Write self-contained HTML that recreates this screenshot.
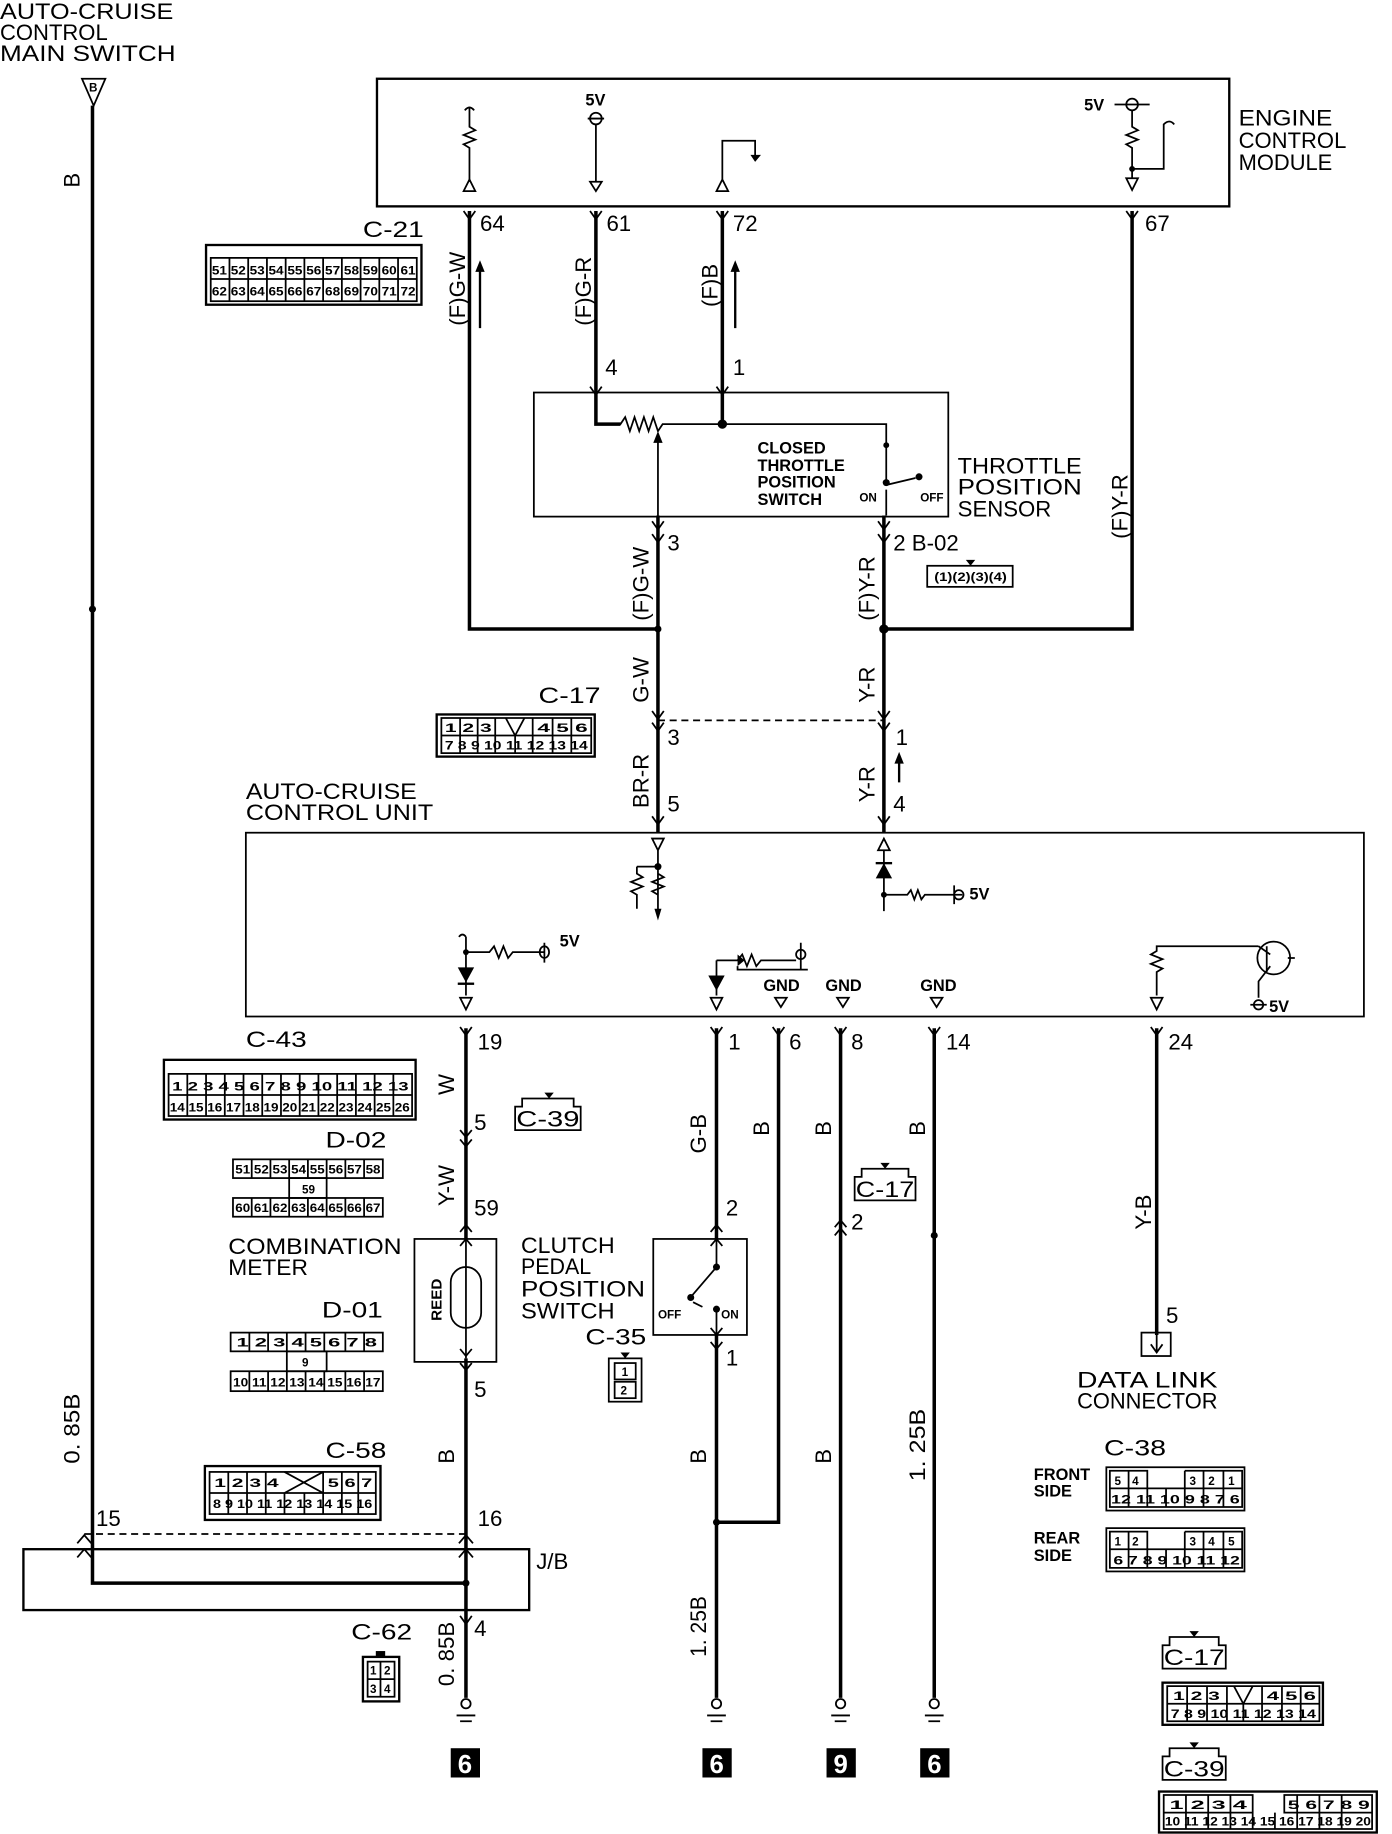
<!DOCTYPE html>
<html><head><meta charset="utf-8"><style>
html,body{margin:0;padding:0;background:#fff;}
svg{display:block}
text{font-family:"Liberation Sans",sans-serif;fill:#000}
.t{font-size:19px}
.s{font-size:14px;font-weight:bold}
.n{font-size:10px;font-weight:bold}
.w{stroke:#000;stroke-width:3;fill:none}
.l{stroke:#000;stroke-width:1.5;fill:none}
.b{stroke:#000;stroke-width:2;fill:none}
</style></head><body>
<svg width="1392" height="1834" viewBox="0 0 1189 1566" xmlns="http://www.w3.org/2000/svg">
<rect width="1189" height="1566" fill="#fff"/>
<text class="t" x="0" y="16" textLength="148" lengthAdjust="spacingAndGlyphs">AUTO-CRUISE</text>
<text class="t" x="0" y="34" textLength="92" lengthAdjust="spacingAndGlyphs">CONTROL</text>
<text class="t" x="0" y="52" textLength="150" lengthAdjust="spacingAndGlyphs">MAIN SWITCH</text>
<path class="l" d="M70 67 L90 67 L80 90 Z"/><text class="n" x="76" y="78">B</text>
<path class="w" d="M79 90 V1352 H398"/>
<circle cx="79" cy="520" r="3"/>
<text class="t" transform="translate(68,160) rotate(-90)">B</text>
<text class="t" transform="translate(68,1250) rotate(-90)" textLength="60" lengthAdjust="spacingAndGlyphs">0. 85B</text>
<rect class="b" x="20" y="1323" width="432" height="52"/>
<path class="l" d="M72 1310 H398" stroke-dasharray="6,4"/>
<text class="t" x="82" y="1303">15</text><text class="t" x="408" y="1303">16</text>
<text class="t" x="458" y="1340">J/B</text>
<path class="l" d="M66 1318 L72 1311 L78 1318 M66 1330 L72 1323 L78 1330 M392 1318 L398 1311 L404 1318 M392 1330 L398 1323 L404 1330"/>
<circle cx="398" cy="1352" r="3"/>
<rect class="b" x="322" y="67" width="728" height="109"/>
<text class="t" x="1058" y="107" textLength="80" lengthAdjust="spacingAndGlyphs">ENGINE</text>
<text class="t" x="1058" y="126" textLength="92" lengthAdjust="spacingAndGlyphs">CONTROL</text>
<text class="t" x="1058" y="145" textLength="80" lengthAdjust="spacingAndGlyphs">MODULE</text>
<path class="l" d="M397 94 Q401 89 405 94 M401 92 V108 l5 3 l-10 4 l10 4 l-10 4 l5 3 V155"/><path class="l" d="M396 163 L401 153 L406 163 Z"/>
<text class="s" x="500" y="90">5V</text><circle class="l" cx="509" cy="101" r="5"/><path class="l" d="M502 101 H516 M509 106 V155 M504 155 L509 163 L514 155 Z"/>
<path class="l" d="M612 163 L617 153 L622 163 Z M617 153 V120 H645 V133"/><path d="M641 132 H650 L645 138 Z"/>
<text class="s" x="926" y="94">5V</text><circle class="l" cx="967" cy="89" r="5"/><path class="l" d="M952 89 H982 M967 94 V108 l5 3 l-10 4 l10 4 l-10 4 l5 3 V152 M967 144 H994 V106 Q999 101 1003 106"/><circle cx="967" cy="144" r="2.5"/><path class="l" d="M962 152 L967 162 L972 152 Z"/>
<g class="l"><path d="M396 180 L401 187 L406 180 M504 180 L509 187 L514 180 M612 180 L617 187 L622 180 M962 180 L967 187 L972 180"/></g>
<text class="t" x="410" y="197">64</text><text class="t" x="518" y="197">61</text><text class="t" x="626" y="197">72</text><text class="t" x="978" y="197">67</text>
<path class="w" d="M401 180 V537 H562"/>
<path class="w" d="M509 180 V362 H530"/>
<path class="w" d="M617 180 V362"/>
<path class="w" d="M967 180 V537 H755"/>
<text class="t" transform="translate(397,278) rotate(-90)">(F)G-W</text>
<text class="t" transform="translate(505,278) rotate(-90)">(F)G-R</text>
<text class="t" transform="translate(613,262) rotate(-90)">(F)B</text>
<text class="t" transform="translate(963,460) rotate(-90)">(F)Y-R</text>
<path class="b" d="M410 280 V225 M628 280 V225 M768 668 V645"/><path d="M406 232 L410 222 L414 232 Z M624 232 L628 222 L632 232 Z M764 652 L768 642 L772 652 Z"/>
<text class="t" x="310" y="202" textLength="52" lengthAdjust="spacingAndGlyphs">C-21</text>
<rect x="176" y="209" width="184" height="51" class="b"/>
<rect x="180" y="220" width="176" height="37" class="l"/>
<path class="l" d="M196 220V257M212 220V257M228 220V257M244 220V257M260 220V257M276 220V257M292 220V257M308 220V257M324 220V257M340 220V257M180 238H356"/>
<text class="n" x="181" y="234" textLength="174" lengthAdjust="spacingAndGlyphs">51 52 53 54 55 56 57 58 59 60 61</text>
<text class="n" x="181" y="252" textLength="174" lengthAdjust="spacingAndGlyphs">62 63 64 65 66 67 68 69 70 71 72</text>
<rect class="l" x="456" y="335" width="354" height="106"/>
<text class="t" x="517" y="320">4</text><text class="t" x="626" y="320">1</text>
<path class="l" d="M504 330 L509 337 L514 330 M612 330 L617 337 L622 330"/>
<path class="l" d="M509 337 V362 H530 l4 -6 l4 12 l4 -12 l4 12 l4 -12 l4 12 l4 -12 l4 12 l4 -6 H617 H757 V410 M757 418 V440 M562 370 V440 M757 414 L782 408"/>
<path d="M558 378 L562 368 L566 378 Z"/><circle cx="617" cy="362" r="4"/><circle cx="757" cy="380" r="2.5"/><circle cx="757" cy="412" r="3"/><circle cx="785" cy="407" r="3"/>
<text class="s" x="647" y="387">CLOSED</text><text class="s" x="647" y="402">THROTTLE</text><text class="s" x="647" y="416">POSITION</text><text class="s" x="647" y="431">SWITCH</text>
<text class="n" x="734" y="428">ON</text><text class="n" x="786" y="428">OFF</text>
<text class="t" x="818" y="404" textLength="106" lengthAdjust="spacingAndGlyphs">THROTTLE</text>
<text class="t" x="818" y="422" textLength="106" lengthAdjust="spacingAndGlyphs">POSITION</text>
<text class="t" x="818" y="441" textLength="80" lengthAdjust="spacingAndGlyphs">SENSOR</text>
<path class="l" d="M557 445 L562 452 L567 445 M750 445 L755 452 L760 445 M557 456 L562 463 L567 456 M750 456 L755 463 L760 456"/>
<text class="t" x="570" y="470">3</text><text class="t" x="763" y="470">2 B-02</text>
<rect class="l" x="792" y="483" width="73" height="18"/><path d="M825 478 H833 L829 483 Z"/>
<text class="n" x="798" y="496" textLength="62" lengthAdjust="spacingAndGlyphs">(1)(2)(3)(4)</text>
<path class="w" d="M562 440 V711 M755 440 V711"/><circle cx="562" cy="537" r="3"/><circle cx="755" cy="537" r="4"/>
<text class="t" transform="translate(554,530) rotate(-90)">(F)G-W</text>
<text class="t" transform="translate(747,530) rotate(-90)">(F)Y-R</text>
<text class="t" transform="translate(554,600) rotate(-90)">G-W</text>
<text class="t" transform="translate(747,600) rotate(-90)">Y-R</text>
<path class="l" d="M557 607 L562 614 L567 607 M750 607 L755 614 L760 607 M557 617 L562 624 L567 617 M750 617 L755 624 L760 617"/>
<path class="l" d="M562 615 H755" stroke-dasharray="6,4"/>
<text class="t" x="570" y="636">3</text><text class="t" x="765" y="636">1</text>
<text class="t" transform="translate(554,690) rotate(-90)">BR-R</text>
<text class="t" transform="translate(747,685) rotate(-90)">Y-R</text>
<text class="t" x="570" y="693">5</text><text class="t" x="763" y="693">4</text>
<path class="l" d="M557 697 L562 704 L567 697 M750 697 L755 704 L760 697"/>
<text class="t" x="460" y="600" textLength="53" lengthAdjust="spacingAndGlyphs">C-17</text>
<rect class="b" x="373" y="610" width="135" height="36"/>
<path class="l" d="M377 613 H505 V643 H377 Z M377 628 H505 M393 613V643M408 613V643M423 613V643M440 628V643M455 613V643M472 613V643M488 613V643"/>
<path class="l" d="M432 613 L440 628 L448 613"/>
<text class="n" x="380" y="625" textLength="40" lengthAdjust="spacingAndGlyphs">1  2  3</text><text class="n" x="459" y="625" textLength="43" lengthAdjust="spacingAndGlyphs">4  5  6</text>
<text class="n" x="380" y="640" textLength="122" lengthAdjust="spacingAndGlyphs">7 8 9 10 11 12 13 14</text>
<text class="t" x="210" y="682" textLength="146" lengthAdjust="spacingAndGlyphs">AUTO-CRUISE</text>
<text class="t" x="210" y="700" textLength="160" lengthAdjust="spacingAndGlyphs">CONTROL UNIT</text>
<rect class="l" x="210" y="711" width="955" height="157"/>
<path class="l" d="M557 716 H567 L562 726 Z M562 726 V740 H544 M562 740 V780 M544 740 V746 l5 3 l-10 4 l10 4 l-10 4 l5 3 V776 M562 746 l5 3 l-10 4 l10 4 l-10 4 l5 3"/>
<path d="M559 776 H565 L562 786 Z"/><circle cx="562" cy="740" r="3"/>
<path class="l" d="M750 726 H760 L755 716 Z M755 726 V778 M755 764 H775 l3 -4 l3 8 l3 -8 l3 8 l3 -4 H815 M815 756 V772 M808 764 H822"/>
<path d="M748 750 L762 750 L755 737 Z"/><rect x="748" y="736" width="14" height="2"/><circle cx="755" cy="764" r="2.5"/><circle class="l" cx="819" cy="764" r="4"/>
<text class="s" x="828" y="768">5V</text>
<path class="l" d="M398 800 V850 M398 813 H418 l4 -5 l4 10 l4 -10 l4 10 l4 -5 H465 M461 813 a4 5 0 1 0 8 0 a4 5 0 1 0 -8 0 M465 805 V822 M393 852 H403 L398 862 Z M392 800 Q395 796 398 800"/>
<path d="M391 826 L405 826 L398 839 Z"/><rect x="391" y="839" width="14" height="2"/><circle cx="398" cy="813" r="2.5"/>
<text class="s" x="478" y="808">5V</text>
<path class="l" d="M612 820 V850 M612 820 H630 l4 -5 l4 10 l4 -10 l4 10 l4 -5 H680 M684 805 V828 M630 825 V828 H690 M607 852 H617 L612 862 Z"/>
<circle class="l" cx="684" cy="815" r="4"/><path d="M605 833 L619 833 L612 846 Z M630 815 L636 820 L630 825 Z"/>
<text class="s" x="652" y="846">GND</text><text class="s" x="705" y="846">GND</text><text class="s" x="786" y="846">GND</text>
<path class="l" d="M662 852 H672 L667 860 Z M715 852 H725 L720 860 Z M795 852 H805 L800 860 Z"/>
<path class="l" d="M988 850 V830 l5 -3 l-10 -4 l10 -4 l-10 -4 l5 -3 V808 H1075 M983 852 H993 L988 862 Z M1075 808 L1085 815 M1085 825 L1075 838 V852 M1068 858 H1082"/>
<circle class="l" cx="1088" cy="818" r="14"/><path class="l" d="M1082 808 V830 M1100 818 H1106"/><circle class="l" cx="1075" cy="858" r="4"/>
<text class="s" x="1084" y="864">5V</text>
<path class="l" d="M393 877 L398 884 L403 877 M607 877 L612 884 L617 877 M660 877 L665 884 L670 877 M713 877 L718 884 L723 877 M793 877 L798 884 L803 877 M983 877 L988 884 L993 877"/>
<text class="t" x="408" y="896">19</text><text class="t" x="622" y="896">1</text><text class="t" x="674" y="896">6</text><text class="t" x="727" y="896">8</text><text class="t" x="808" y="896">14</text><text class="t" x="998" y="896">24</text>
<path class="w" d="M398 878 V1058 M398 1160 V1450 M612 878 V1058 M612 1140 V1450 M612 1300 H665 V878 M718 878 V1450 M798 878 V1450 M988 878 V1140"/>
<circle cx="612" cy="1300" r="3"/><circle cx="798" cy="1055" r="3"/>
<text class="t" transform="translate(388,935) rotate(-90)">W</text>
<text class="t" x="405" y="965">5</text>
<path class="l" d="M393 965 L398 971 L403 965 M393 973 L398 979 L403 973"/>
<text class="t" transform="translate(388,1030) rotate(-90)">Y-W</text>
<text class="t" x="405" y="1038">59</text>
<path class="l" d="M393 1052 L398 1046 L403 1052 M393 1064 L398 1058 L403 1064"/>
<rect class="l" x="354" y="1058" width="70" height="105"/>
<path class="l" d="M398 1058 V1160"/><rect class="l" x="385" y="1082" width="26" height="52" rx="13"/>
<text class="n" transform="translate(377,1128) rotate(-90)" style="font-size:13px">REED</text>
<path class="l" d="M393 1152 L398 1158 L403 1152 M393 1164 L398 1170 L403 1164"/>
<text class="t" x="405" y="1193">5</text>
<text class="t" transform="translate(388,1250) rotate(-90)">B</text>
<text class="t" x="405" y="1397">4</text>
<path class="l" d="M393 1380 L398 1387 L403 1380"/>
<text class="t" transform="translate(388,1440) rotate(-90)" textLength="55" lengthAdjust="spacingAndGlyphs">0. 85B</text>
<text class="t" x="445" y="1070" textLength="80" lengthAdjust="spacingAndGlyphs">CLUTCH</text>
<text class="t" x="445" y="1088" textLength="60" lengthAdjust="spacingAndGlyphs">PEDAL</text>
<text class="t" x="445" y="1107" textLength="106" lengthAdjust="spacingAndGlyphs">POSITION</text>
<text class="t" x="445" y="1126" textLength="80" lengthAdjust="spacingAndGlyphs">SWITCH</text>
<text class="t" transform="translate(603,985) rotate(-90)">G-B</text>
<text class="t" x="620" y="1038">2</text>
<path class="l" d="M607 1052 L612 1046 L617 1052 M607 1064 L612 1058 L617 1064"/>
<rect class="l" x="558" y="1058" width="80" height="82"/>
<path class="l" d="M612 1058 V1082 L588 1110 M592 1112 L600 1116 M612 1118 V1140"/>
<circle cx="612" cy="1082" r="3"/><circle cx="590" cy="1108" r="3"/><circle cx="612" cy="1118" r="3"/>
<text class="n" x="562" y="1126">OFF</text><text class="n" x="616" y="1126">ON</text>
<path class="l" d="M607 1134 L612 1140 L617 1134 M607 1146 L612 1152 L617 1146"/>
<text class="t" x="620" y="1166">1</text>
<text class="t" x="500" y="1148" textLength="52" lengthAdjust="spacingAndGlyphs">C-35</text>
<rect class="l" x="520" y="1160" width="28" height="37"/><rect class="l" x="525" y="1164" width="18" height="14"/><rect class="l" x="525" y="1180" width="18" height="14"/><path d="M530 1155 H538 L534 1160Z"/>
<text class="n" x="531" y="1175">1</text><text class="n" x="530" y="1191">2</text>
<text class="t" transform="translate(603,1250) rotate(-90)">B</text>
<text class="t" transform="translate(603,1415) rotate(-90)" textLength="52" lengthAdjust="spacingAndGlyphs">1. 25B</text>
<text class="t" transform="translate(657,970) rotate(-90)">B</text>
<text class="t" transform="translate(710,970) rotate(-90)">B</text>
<text class="t" transform="translate(790,970) rotate(-90)">B</text>
<text class="t" transform="translate(710,1250) rotate(-90)">B</text>
<text class="t" transform="translate(790,1265) rotate(-90)" textLength="62" lengthAdjust="spacingAndGlyphs">1. 25B</text>
<path class="l" d="M713 1048 L718 1042 L723 1048 M713 1055 L718 1049 L723 1055"/>
<text class="t" x="727" y="1050">2</text>
<path class="l" d="M730 1025 V1005 H736 V998 H776 V1005 H782 V1025 Z"/><path d="M752 993 H760 L756 998 Z"/>
<text class="t" x="731" y="1022" textLength="50" lengthAdjust="spacingAndGlyphs">C-17</text>
<path class="l" d="M440 965 V945 H446 V938 H490 V945 H496 V965 Z"/><path d="M465 933 H473 L469 938 Z"/>
<text class="t" x="441" y="962" textLength="54" lengthAdjust="spacingAndGlyphs">C-39</text>
<text class="t" transform="translate(983,1050) rotate(-90)">Y-B</text>
<text class="t" x="996" y="1130">5</text>
<rect class="l" x="975" y="1138" width="25" height="20"/><path class="l" d="M988 1136 V1154 M983 1148 L988 1155 L993 1148"/>
<text class="t" x="920" y="1185" textLength="120" lengthAdjust="spacingAndGlyphs">DATA LINK</text>
<text class="t" x="920" y="1203" textLength="120" lengthAdjust="spacingAndGlyphs">CONNECTOR</text>
<g class="l">
<circle cx="398" cy="1455" r="4"/><path d="M390 1465 H406 M393 1470 H403"/>
<circle cx="612" cy="1455" r="4"/><path d="M604 1465 H620 M607 1470 H617"/>
<circle cx="718" cy="1455" r="4"/><path d="M710 1465 H726 M713 1470 H723"/>
<circle cx="798" cy="1455" r="4"/><path d="M790 1465 H806 M793 1470 H803"/>
</g>
<rect x="385" y="1493" width="25" height="25"/><rect x="600" y="1493" width="25" height="25"/><rect x="706" y="1493" width="25" height="25"/><rect x="786" y="1493" width="25" height="25"/>
<g style="font-size:22px;font-weight:bold"><text x="391" y="1514" style="fill:#fff">6</text><text x="606" y="1514" style="fill:#fff">6</text><text x="712" y="1514" style="fill:#fff">9</text><text x="792" y="1514" style="fill:#fff">6</text></g>
<text class="t" x="210" y="894" textLength="52" lengthAdjust="spacingAndGlyphs">C-43</text>
<rect class="b" x="140" y="905" width="215" height="51"/>
<rect class="l" x="144" y="917" width="208" height="36"/>
<path class="l" d="M160 917V953M176 917V953M192 917V953M208 917V953M224 917V953M240 917V953M256 917V953M272 917V953M288 917V953M304 917V953M320 917V953M336 917V953M144 935H352"/>
<text class="n" x="147" y="931" textLength="202" lengthAdjust="spacingAndGlyphs">1   2   3   4   5   6   7   8   9  10  11  12  13</text>
<text class="n" x="145" y="949" textLength="205" lengthAdjust="spacingAndGlyphs">14 15 16 17 18 19 20 21 22 23 24 25 26</text>
<text class="t" x="278" y="980" textLength="52" lengthAdjust="spacingAndGlyphs">D-02</text>
<rect class="l" x="199" y="990" width="128" height="16"/><rect class="l" x="199" y="1023" width="128" height="16"/><rect class="l" x="247" y="1006" width="32" height="17"/>
<path class="l" d="M215 990V1006M231 990V1006M247 990V1006M263 990V1006M279 990V1006M295 990V1006M311 990V1006M215 1023V1039M231 1023V1039M247 1023V1039M263 1023V1039M279 1023V1039M295 1023V1039M311 1023V1039"/>
<text class="n" x="201" y="1002" textLength="124" lengthAdjust="spacingAndGlyphs">51 52 53 54 55 56 57 58</text>
<text class="n" x="258" y="1019">59</text>
<text class="n" x="201" y="1035" textLength="124" lengthAdjust="spacingAndGlyphs">60 61 62 63 64 65 66 67</text>
<text class="t" x="195" y="1071" textLength="148" lengthAdjust="spacingAndGlyphs">COMBINATION</text>
<text class="t" x="195" y="1089" textLength="68" lengthAdjust="spacingAndGlyphs">METER</text>
<text class="t" x="275" y="1125" textLength="52" lengthAdjust="spacingAndGlyphs">D-01</text>
<rect class="l" x="197" y="1138" width="130" height="16"/><rect class="l" x="197" y="1171" width="130" height="17"/><rect class="l" x="245" y="1154" width="34" height="17"/>
<path class="l" d="M213 1138V1154M229 1138V1154M245 1138V1154M261 1138V1154M277 1138V1154M295 1138V1154M311 1138V1154M213 1171V1188M229 1171V1188M245 1171V1188M261 1171V1188M277 1171V1188M295 1171V1188M311 1171V1188"/>
<text class="n" x="202" y="1150" textLength="120" lengthAdjust="spacingAndGlyphs">1  2  3  4  5  6  7  8</text>
<text class="n" x="258" y="1167">9</text>
<text class="n" x="199" y="1184" textLength="126" lengthAdjust="spacingAndGlyphs">10 11 12 13 14 15 16 17</text>
<text class="t" x="278" y="1245" textLength="52" lengthAdjust="spacingAndGlyphs">C-58</text>
<rect class="b" x="175" y="1252" width="150" height="46"/>
<rect class="l" x="179" y="1257" width="142" height="36"/>
<path class="l" d="M179 1275H321M195 1257V1293M211 1257V1293M227 1257V1293M243 1275V1293M260 1275V1293M276 1257V1293M292 1257V1293M306 1257V1293M243 1257 L276 1275 M276 1257 L243 1275"/>
<text class="n" x="183" y="1270" textLength="55" lengthAdjust="spacingAndGlyphs">1  2  3  4</text><text class="n" x="280" y="1270" textLength="38" lengthAdjust="spacingAndGlyphs">5  6  7</text>
<text class="n" x="182" y="1288" textLength="136" lengthAdjust="spacingAndGlyphs">8 9 10 11 12 13 14 15 16</text>
<text class="t" x="300" y="1400" textLength="52" lengthAdjust="spacingAndGlyphs">C-62</text>
<rect class="b" x="310" y="1415" width="31" height="38"/><path class="l" d="M314 1419H337V1449H314Z M314 1434H337 M325 1419V1449"/><path d="M321 1410H329V1415H321Z"/>
<text class="n" x="316" y="1430">1</text><text class="n" x="328" y="1430">2</text><text class="n" x="316" y="1446">3</text><text class="n" x="328" y="1446">4</text>
<text class="t" x="943" y="1243" textLength="53" lengthAdjust="spacingAndGlyphs">C-38</text>
<text class="s" x="883" y="1264">FRONT</text><text class="s" x="883" y="1278">SIDE</text>
<text class="s" x="883" y="1318">REAR</text><text class="s" x="883" y="1333">SIDE</text>
<rect class="l" x="945" y="1253" width="118" height="37"/><rect class="l" x="945" y="1305" width="118" height="37"/>
<path class="l" d="M948 1256H980V1287H948Z M948 1271H1061 M964 1256V1287 M1012 1256H1061V1287H948 M1028 1256V1287M1045 1256V1287M996 1271V1287M980 1271V1287M1012 1256V1287"/>
<text class="n" x="952" y="1268">5</text><text class="n" x="967" y="1268">4</text><text class="n" x="1016" y="1268">3</text><text class="n" x="1032" y="1268">2</text><text class="n" x="1049" y="1268">1</text>
<text class="n" x="949" y="1284" textLength="110" lengthAdjust="spacingAndGlyphs">12 11 10  9  8  7  6</text>
<path class="l" d="M948 1308H980V1339H948Z M948 1323H1061 M964 1308V1339 M1012 1308H1061V1339H948 M1028 1308V1339M1045 1308V1339M996 1323V1339M980 1323V1339M1012 1308V1339"/>
<text class="n" x="952" y="1320">1</text><text class="n" x="967" y="1320">2</text><text class="n" x="1016" y="1320">3</text><text class="n" x="1032" y="1320">4</text><text class="n" x="1049" y="1320">5</text>
<text class="n" x="951" y="1336" textLength="108" lengthAdjust="spacingAndGlyphs">6  7  8  9 10 11 12</text>
<path class="l" d="M993 1425 V1405 H999 V1398 H1041 V1405 H1047 V1425 Z"/><path d="M1016 1393 H1024 L1020 1398Z"/>
<text class="t" x="994" y="1422" textLength="52" lengthAdjust="spacingAndGlyphs">C-17</text>
<rect class="b" x="993" y="1437" width="137" height="36"/>
<path class="l" d="M997 1440 H1127 V1470 H997 Z M997 1455 H1127 M1014 1440V1470M1031 1440V1470M1048 1440V1470M1062 1455V1470M1078 1440V1470M1095 1440V1470M1111 1440V1470 M1054 1440 L1062 1455 L1070 1440"/>
<text class="n" x="1002" y="1452" textLength="40" lengthAdjust="spacingAndGlyphs">1  2  3</text><text class="n" x="1082" y="1452" textLength="42" lengthAdjust="spacingAndGlyphs">4  5  6</text>
<text class="n" x="1000" y="1467" textLength="124" lengthAdjust="spacingAndGlyphs">7 8 9 10 11 12 13 14</text>
<path class="l" d="M993 1520 V1500 H999 V1493 H1041 V1500 H1047 V1520 Z"/><path d="M1016 1488 H1024 L1020 1493Z"/>
<text class="t" x="994" y="1517" textLength="52" lengthAdjust="spacingAndGlyphs">C-39</text>
<rect class="b" x="990" y="1530" width="186" height="35"/>
<path class="l" d="M994 1533 H1070 V1548 H994 Z M994 1548 V1562 H1172 V1548 H1097 V1533 H1172 V1548 M1013 1533V1562M1032 1533V1562M1051 1533V1562M1070 1548V1562M1089 1548V1562M1108 1533V1562M1127 1533V1562M1146 1533V1562"/>
<text class="n" x="999" y="1545" textLength="66" lengthAdjust="spacingAndGlyphs">1   2   3   4</text><text class="n" x="1100" y="1545" textLength="70" lengthAdjust="spacingAndGlyphs">5   6   7   8   9</text>
<text class="n" x="995" y="1559" textLength="176" lengthAdjust="spacingAndGlyphs">10 11 12 13 14 15 16 17 18 19 20</text>
</svg>
</body></html>
